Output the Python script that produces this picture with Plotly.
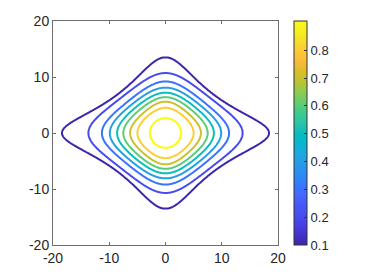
import numpy as np
import plotly.graph_objects as go

# Contour levels and contour extents
levels = [0.1, 0.2, 0.3, 0.4, 0.5, 0.6, 0.7, 0.8, 0.9]
rx = [18.4, 13.7, 11.3, 9.9, 8.6, 7.5, 6.3, 5.0, 2.8]      # crossing on x axis
ry = [13.5, 10.7, 9.2, 8.1, 7.2, 6.4, 5.6, 4.5, 2.7]       # crossing on y axis
rd = [7.6, 7.0, 6.1, 5.5, 4.9, 4.35, 3.75, 3.1, 1.93]      # crossing on diagonal (x=y)
z_peak = 0.905
x_ticks = [-20, -10, 0, 10, 20]
y_ticks = [-20, -10, 0, 10, 20]
cbar_ticks = [0.1, 0.2, 0.3, 0.4, 0.5, 0.6, 0.7, 0.8]

parula_rgb = [
    [0.2422, 0.1504, 0.6603], [0.2647, 0.1978, 0.7952], [0.2783, 0.2559, 0.8991],
    [0.2813, 0.3006, 0.9414], [0.2795, 0.3447, 0.9717], [0.2602, 0.4123, 0.9952],
    [0.1963, 0.4847, 0.9892], [0.1764, 0.5499, 0.9520], [0.1460, 0.6091, 0.9079],
    [0.1113, 0.6635, 0.8763], [0.0297, 0.7082, 0.8163], [0.0433, 0.7411, 0.7394],
    [0.1717, 0.7670, 0.6554], [0.2470, 0.7918, 0.5567], [0.3909, 0.8029, 0.4354],
    [0.5616, 0.7942, 0.3045], [0.7242, 0.7698, 0.1910], [0.8634, 0.7406, 0.1596],
    [0.9728, 0.7298, 0.2394], [0.9952, 0.7893, 0.2028], [0.9676, 0.8639, 0.1643],
    [0.9628, 0.9373, 0.1265], [0.9769, 0.9839, 0.0805],
]
n = len(parula_rgb)
parula = [[i / (n - 1), 'rgb(%d,%d,%d)' % tuple(int(round(c * 255)) for c in rgb)]
          for i, rgb in enumerate(parula_rgb)]

# Build the surface from the read contour extents (polar interpolation)
xs = np.linspace(-20, 20, 401)
ys = np.linspace(-20, 20, 401)
X, Y = np.meshgrid(xs, ys)
R = np.hypot(X, Y)
TH = np.arctan2(Y, X)
c2 = np.cos(TH) ** 2
s2 = np.sin(TH) ** 2

radii = []
for xr, yr, d in zip(rx, ry, rd):
    a0 = d * d / xr ** 2
    b0 = d * d / yr ** 2
    k = max((1 - a0 - b0) / (a0 * b0), 1e-6)
    a = c2 / xr ** 2
    b = s2 / yr ** 2
    W = 2.0 / ((a + b) + np.sqrt((a + b) ** 2 + 4 * k * a * b))
    radii.append(np.sqrt(W))

r_knots = [np.zeros_like(R)] + radii[::-1]
z_knots = [z_peak] + levels[::-1]
Z = np.zeros_like(R)
for j in range(len(r_knots) - 1):
    r0, r1 = r_knots[j], r_knots[j + 1]
    z0, z1 = z_knots[j], z_knots[j + 1]
    m = (R >= r0) & (R < r1)
    Z[m] = (z0 + (R - r0) / (r1 - r0) * (z1 - z0))[m]
outer = radii[0]
m = R >= outer
Z[m] = (levels[0] * (outer / np.maximum(R, 1e-9)) ** 2)[m]

font = dict(family='Liberation Sans, Arial, sans-serif', size=14, color='#262626')

fig = go.Figure()
fig.add_trace(go.Contour(
    x=xs, y=ys, z=Z,
    colorscale=parula, zauto=False, zmin=levels[0], zmax=z_peak,
    contours=dict(start=levels[0], end=levels[-1] + 1e-4, size=0.1, coloring='lines'),
    line=dict(width=2), showscale=False, hoverinfo='skip',
))
fig.add_trace(go.Scatter(
    x=[0], y=[0], mode='markers', hoverinfo='skip', showlegend=False,
    marker=dict(size=1, opacity=0, color=[0.5], colorscale=parula,
                cmin=levels[0], cmax=z_peak, showscale=True,
                colorbar=dict(x=1.071, xanchor='left', y=0.5, yanchor='middle',
                              len=1.0, lenmode='fraction', thickness=13,
                              xpad=0, ypad=0,
                              outlinewidth=1, outlinecolor='#333333',
                              ticks='inside', ticklen=3, tickcolor='#333333',
                              tickvals=cbar_ticks,
                              ticktext=['%.1f' % v for v in cbar_ticks],
                              tickfont=dict(size=13, color='#262626')))
))

axis_common = dict(range=[-20, 20], showgrid=False, zeroline=False, showline=True,
                   linecolor='#6e6e6e', linewidth=1, mirror='ticks', ticks='inside',
                   ticklen=3, tickcolor='#6e6e6e', tickfont=font, automargin=False)
fig.update_xaxes(tickvals=x_ticks, ticktext=[str(v) for v in x_ticks], **axis_common)
fig.update_yaxes(tickvals=y_ticks, ticktext=[str(v) for v in y_ticks], **axis_common)

fig.update_layout(width=368, height=276,
                  margin=dict(l=53, r=90, t=21, b=31, autoexpand=False),
                  paper_bgcolor='white', plot_bgcolor='white', font=font,
                  showlegend=False)
fig.write_html('out.html', config={'displayModeBar': False},
               post_script="document.body.style.margin='0';document.body.style.padding='0';")
